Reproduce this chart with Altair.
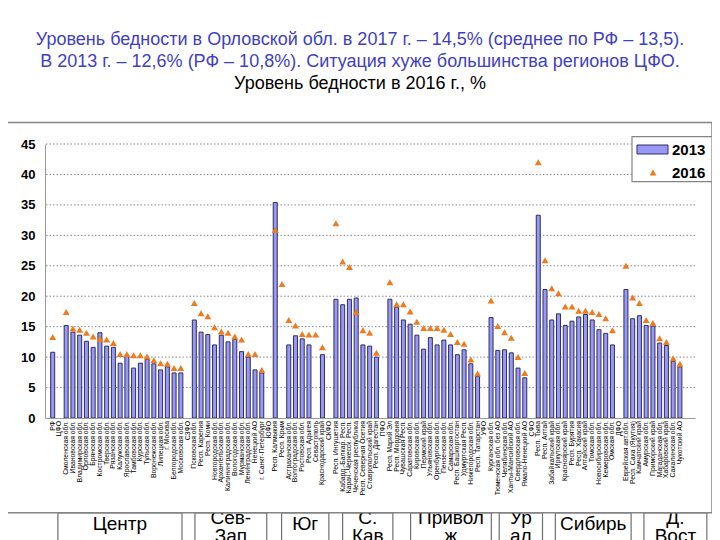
import altair as alt
import pandas as pd

# ---------------- data ----------------
categories = [
    "РФ", "ЦФО", "Смоленская обл.", "Ивановская обл.", "Владимирская обл.", "Орловская обл.",
    "Брянская обл.", "Костромская обл.", "Тверская обл.", "Рязанская обл.", "Калужская обл.",
    "Ярославская обл.", "Тамбовская обл.", "Курская обл.", "Тульская обл.", "Воронежская обл.",
    "Липецкая обл.", "г. Москва", "Белгородская обл.", "Московская обл.",
    "СЗФО", "Псковская обл.", "Респ. Карелия", "Респ. Коми", "Новгородская обл.",
    "Архангельская обл.", "Калининградская обл.", "Вологодская обл.", "Мурманская обл.",
    "Ленинградская обл.", "Ненецкий АО", "г. Санкт-Петербург",
    "ЮФО", "Респ. Калмыкия", "Респ. Крым", "Астраханская обл.", "Волгоградская обл.",
    "Ростовская обл.", "Респ. Адыгея", "Севастополь", "Краснодарский край",
    "СКФО", "Респ. Ингушетия", "Кабард.-Балкар. Респ.", "Карач.-Черкесск. Респ.",
    "Чеченская республика", "Респ. Северная Осетия", "Ставропольский край", "Респ. Дагестан",
    "ПФО", "Респ. Марий Эл", "Респ. Мордовия", "Чувашская Респ.", "Саратовская обл.",
    "Кировская обл.", "Пермский край", "Ульяновская обл.", "Оренбургская обл.",
    "Пензенская обл.", "Самарская обл.", "Респ. Башкортостан", "Удмуртская Респ.",
    "Нижегородская обл.", "Респ. Татарстан",
    "УФО", "Курганская обл.", "Тюменская обл. без АО", "Челябинская обл.",
    "Ханты-Мансийский АО", "Свердловская обл.", "Ямало-Ненецкий АО",
    "СФО", "Респ. Тыва", "Респ. Алтай", "Забайкальский край", "Иркутская обл.",
    "Красноярский край", "Респ. Бурятия", "Респ. Хакасия", "Алтайский край", "Томская обл.",
    "Новосибирская обл.", "Кемеровская обл.", "Омская обл.",
    "ДФО", "Еврейская авт.обл.", "Респ. Саха (Якутия)", "Камчатский край", "Амурская обл.",
    "Приморский край", "Магаданская обл.", "Хабаровский край", "Сахалинская обл.", "Чукотский АО",
]

v2013 = [
    10.8, None, 15.2, 14.1, 13.6, 12.6, 11.6, 14.0, 11.8, 11.6, 9.0, 10.1, 8.2, 9.0, 9.6, 8.9,
    7.9, 8.4, 7.4, 7.4,
    None, 16.1, 14.1, 13.7, 12.0, 13.6, 12.5, 12.9, 10.9, 10.0, 7.9, 7.4,
    None, 35.4, None, 12.0, 13.5, 13.0, 12.0, None, 10.4,
    None, 19.5, 18.6, 19.5, 19.7, 12.0, 11.8, 10.0,
    None, 19.5, 18.2, 16.1, 15.4, 13.6, 11.3, 13.2, 12.0, 12.8, 12.0, 10.4, 11.2, 8.9, 6.8,
    None, 16.5, 11.1, 11.2, 10.7, 8.2, 6.6,
    None, 33.3, 21.1, 16.1, 17.1, 15.2, 15.9, 16.6, 17.0, 16.1, 14.5, 13.9, 12.0,
    None, 21.1, 16.3, 16.8, 15.2, 15.1, 12.3, 11.9, 9.3, 8.4,
]

v2016 = [
    13.3, None, 17.4, 14.7, 14.5, 14.0, 13.4, 13.0, 12.9, 12.3, 10.5, 10.5, 10.3, 10.3, 10.1, 9.5,
    9.0, 8.9, 8.2, 8.2,
    None, 18.9, 17.2, 16.7, 14.9, 14.2, 14.0, 13.4, 12.9, 10.5, 10.5, 7.9,
    None, 30.9, 22.0, 16.1, 15.2, 13.8, 13.7, 13.7, 11.6,
    None, 32.0, 25.7, 24.8, 17.4, 14.4, 14.0, 10.7,
    None, 22.3, 18.7, 18.7, 17.5, 15.8, 14.8, 14.8, 14.8, 14.5, 13.8, 12.5, 12.2, 9.6, 7.3,
    None, 19.3, 15.1, 14.1, 13.2, 10.0, 7.4,
    None, 42.0, 25.9, 21.3, 20.5, 18.3, 18.3, 17.6, 17.6, 17.4, 17.1, 16.4, 14.4,
    None, 25.0, 19.8, 18.9, 16.1, 15.6, 13.1, 12.5, 9.8, 8.9,
]

districts = ["Центр", "Сев-\nЗап", "Юг", "С.\nКав", "Привол\nж", "Ур\nал", "Сибирь", "Д.\nВост"]
district_start = [1.77, 22.09, 34.94, 43.99, 54.07, 67.21, 75.53, 88.67]
district_end = [20.17, 32.74, 41.95, 51.44, 66.04, 73.63, 86.77, 98.0]

y_ticks = [0, 5, 10, 15, 20, 25, 30, 35, 40, 45]
grid_values = [5, 10, 15, 20, 25, 30, 35, 40, 45]

title_lines = [
    "Уровень бедности в Орловской обл. в 2017 г. – 14,5% (среднее по РФ – 13,5).",
    "В 2013 г. – 12,6% (РФ – 10,8%). Ситуация хуже большинства регионов ЦФО.",
    "Уровень бедности в 2016 г., %",
]
title_colors = ["#3f3fbf", "#3f3fbf", "#000000"]

legend_labels = ["2013", "2016"]

# ---------------- tables ----------------
df = pd.DataFrame({
    "slot": list(range(1, len(categories) + 1)),
    "name": categories,
    "v2013": v2013,
    "v2016": v2016,
})
bars_df = df.dropna(subset=["v2013"])
tri_df = df.dropna(subset=["v2016"])
grid_df = pd.DataFrame({"g": grid_values})
dist_df = pd.DataFrame({"name": districts, "start": district_start, "end": district_end})
dist_df["mid"] = (dist_df["start"] + dist_df["end"]) / 2
dist_df["two"] = dist_df["name"].str.contains("\n")
one = pd.DataFrame({"k": [0]})

W, H = 650, 274
FONT = "Liberation Sans, Arial, sans-serif"

x_scale = alt.Scale(domain=[0.6, 95.5], nice=False, zero=False)
y_scale = alt.Scale(domain=[0, 45], nice=False)
x_axis = alt.Axis(labels=False, ticks=False, grid=False, title=None,
                  domainColor="#9a9a9a", domainWidth=1, zindex=1)
y_axis = alt.Axis(values=y_ticks, grid=False, ticks=False, title=None,
                  labelFont=FONT, labelFontSize=13, labelFontWeight="bold",
                  labelColor="#000000", labelPadding=10,
                  domainColor="#9a9a9a", domainWidth=1, zindex=1)

# district boxes under the chart (drawn first, partly hidden by the frame)
box_rects = alt.Chart(dist_df).mark_rect(fill="white", stroke="#6f6f6f", strokeWidth=1.2).encode(
    x=alt.X("start:Q", scale=x_scale, axis=x_axis),
    x2="end:Q",
    y=alt.value(369), y2=alt.value(400),
)
box_text1 = alt.Chart(dist_df[~dist_df["two"]]).mark_text(
    font=FONT, fontSize=19, color="black", align="center", baseline="middle",
).encode(
    x=alt.X("mid:Q", scale=x_scale, axis=x_axis),
    y=alt.value(380),
    text="name:N",
)
box_text2 = alt.Chart(dist_df[dist_df["two"]]).mark_text(
    font=FONT, fontSize=19, color="black", lineBreak="\n", lineHeight=18,
    align="center", baseline="middle",
).encode(
    x=alt.X("mid:Q", scale=x_scale, axis=x_axis),
    y=alt.value(374),
    text="name:N",
)

# frame of the chart
frame = alt.Chart(one).mark_rect(fill="white", stroke="#858585", strokeWidth=1.5).encode(
    x=alt.value(-38), x2=alt.value(667), y=alt.value(-21.6), y2=alt.value(368.7),
)

grid = alt.Chart(grid_df).mark_rule(color="#8a8a8a", strokeWidth=1, strokeDash=[1.5, 2]).encode(
    y=alt.Y("g:Q", scale=y_scale, axis=y_axis),
)

bars = alt.Chart(bars_df).mark_bar(size=4.0, fill="#9999f5", stroke="#2e2e5e", strokeWidth=1).encode(
    x=alt.X("slot:Q", scale=x_scale, axis=x_axis),
    y=alt.Y("v2013:Q", scale=y_scale, axis=y_axis),
)

tris = alt.Chart(tri_df).mark_point(shape="triangle-up", filled=True, size=48,
                                     color="#ef7b1f", opacity=1, strokeWidth=0).encode(
    x=alt.X("slot:Q", scale=x_scale, axis=x_axis),
    y=alt.Y("v2016:Q", scale=y_scale, axis=y_axis),
)

xlabels = alt.Chart(df).mark_text(
    angle=270, align="right", baseline="middle", font=FONT, fontSize=6.8, color="black",
).encode(
    x=alt.X("slot:Q", scale=x_scale, axis=x_axis),
    y=alt.value(277),
    text="name:N",
)

# legend
leg_box = alt.Chart(one).mark_rect(fill="white", stroke="#858585", strokeWidth=1.2).encode(
    x=alt.value(587), x2=alt.value(667), y=alt.value(-7.3), y2=alt.value(37.7),
)
leg_bar = alt.Chart(one).mark_rect(fill="#9999f5", stroke="#2e2e5e", strokeWidth=1).encode(
    x=alt.value(592), x2=alt.value(623), y=alt.value(1), y2=alt.value(10),
)
leg_tri = alt.Chart(one).mark_point(shape="triangle-up", filled=True, size=48,
                                     color="#ef7b1f", opacity=1, strokeWidth=0).encode(
    x=alt.value(608), y=alt.value(28.5),
)
leg_text1 = alt.Chart(one).mark_text(font=FONT, fontSize=15, fontWeight="bold", align="left",
                                      baseline="middle", color="black").encode(
    x=alt.value(627), y=alt.value(6), text=alt.value(legend_labels[0]),
)
leg_text2 = alt.Chart(one).mark_text(font=FONT, fontSize=15, fontWeight="bold", align="left",
                                      baseline="middle", color="black").encode(
    x=alt.value(627), y=alt.value(29), text=alt.value(legend_labels[1]),
)

titles = []
for i, (t, c) in enumerate(zip(title_lines, title_colors)):
    titles.append(
        alt.Chart(one).mark_text(font=FONT, fontSize=18, color=c, align="center",
                                 baseline="middle").encode(
            x=alt.value(315), y=alt.value(-104 + 22 * i), text=alt.value(t),
        )
    )

chart = alt.layer(
    box_rects, box_text1, box_text2, frame, grid, bars, tris, xlabels,
    leg_box, leg_bar, leg_tri, leg_text1, leg_text2, *titles,
).properties(
    width=W, height=H,
    autosize=alt.AutoSizeParams(type="none"),
    padding={"left": 37, "top": 136, "right": 17, "bottom": 122},
).configure_view(stroke=None)

chart.save("out.html", embed_options={"renderer": "svg", "actions": False})
